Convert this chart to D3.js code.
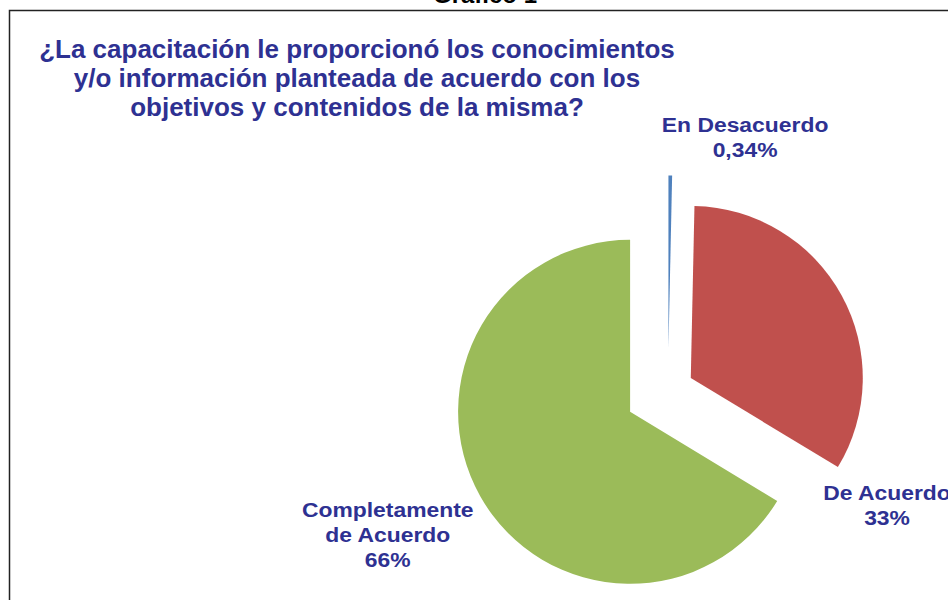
<!DOCTYPE html>
<html>
<head>
<meta charset="utf-8">
<script src="https://cdn.jsdelivr.net/npm/d3@7"></script>
<style>
  html, body { margin: 0; padding: 0; background: #fff; }
  svg { display: block; }
</style>
</head>
<body>
<svg width="948" height="600"></svg>
<script>
// donnees du graphique
const categories = ["En Desacuerdo", "De Acuerdo", "Completamente de Acuerdo"];
const values = [0.34, 33.33, 66.33];
const pctLabels = ["0,34%", "33%", "66%"];
const labelLines = [["En Desacuerdo"], ["De Acuerdo"], ["Completamente", "de Acuerdo"]];
const colors = ["#4F81BD", "#C0504D", "#9BBB59"];
const titleLines = [
  "¿La capacitación le proporcionó los conocimientos",
  "y/o información planteada de acuerdo con los",
  "objetivos y contenidos de la misma?"
];

/*----------- mise en page -----------*/
const svg = d3.select("svg");
const cx = 668, cy = 390.5, radius = 172;
// eclatement de chaque part (px) et position des etiquettes (angle deg, distance)
const explode = [43, 26, 43.5];
const labelPolar = [[20, 224], [123, 234], [243, 272]];
const textColor = "#2E3192";

// cadre
svg.append("rect")
  .attr("x", 9.5).attr("y", 10.5)
  .attr("width", 960).attr("height", 620)
  .attr("fill", "none")
  .attr("stroke", "#222")
  .attr("stroke-width", 1.5);

// "Grafico 1" coupe en haut (comme dans l'original)
svg.append("text")
  .attr("x", 485).attr("y", 3)
  .attr("text-anchor", "middle")
  .attr("font-family", "Liberation Sans, Arial, sans-serif")
  .attr("font-weight", "bold")
  .attr("font-size", 24)
  .attr("fill", "#000")
  .text("Gráfico 1");

// titre
svg.append("g").selectAll("text")
  .data(titleLines)
  .enter()
  .append("text")
  .attr("x", 357)
  .attr("y", (d, i) => 58 + i * 29)
  .attr("text-anchor", "middle")
  .attr("font-family", "Liberation Sans, Arial, sans-serif")
  .attr("font-weight", "bold")
  .attr("font-size", 26)
  .attr("fill", textColor)
  .text((d) => d);

/*----------- camembert -----------*/
const pie = d3.pie().sort(null).value((d) => d.value);
const arc = d3.arc().innerRadius(0).outerRadius(radius);
const data = pie(categories.map((c, i) => ({ name: c, value: values[i], i: i })));

// centre de chaque part apres eclatement
function sliceCenter(d) {
  const a = (d.startAngle + d.endAngle) / 2;
  const e = explode[d.data.i];
  return [cx + e * Math.sin(a), cy - e * Math.cos(a)];
}

svg.append("g").selectAll("path")
  .data(data)
  .enter()
  .append("path")
  .attr("transform", (d) => "translate(" + sliceCenter(d) + ")")
  .attr("fill", (d) => colors[d.data.i])
  .attr("d", arc);

// etiquettes (un peu elargies comme dans l'original)
const labels = svg.append("g").selectAll("text")
  .data(data)
  .enter()
  .append("text")
  .attr("text-anchor", "middle")
  .attr("font-family", "Liberation Sans, Arial, sans-serif")
  .attr("font-weight", "bold")
  .attr("font-size", 21)
  .attr("fill", textColor)
  .attr("transform", (d) => {
    const c = sliceCenter(d);
    const p = labelPolar[d.data.i];
    const a = p[0] * Math.PI / 180;
    const n = labelLines[d.data.i].length + 1;
    const x = c[0] + p[1] * Math.sin(a);
    const y = c[1] - p[1] * Math.cos(a) - (n - 1) * 25 / 2 + 7;
    return "translate(" + x + "," + y + ") scale(1.09,1)";
  });

labels.selectAll("tspan")
  .data((d) => labelLines[d.data.i].concat([pctLabels[d.data.i]]))
  .enter()
  .append("tspan")
  .attr("x", 0)
  .attr("dy", (d, i) => (i === 0 ? 0 : 25))
  .text((d) => d);
</script>
</body>
</html>
